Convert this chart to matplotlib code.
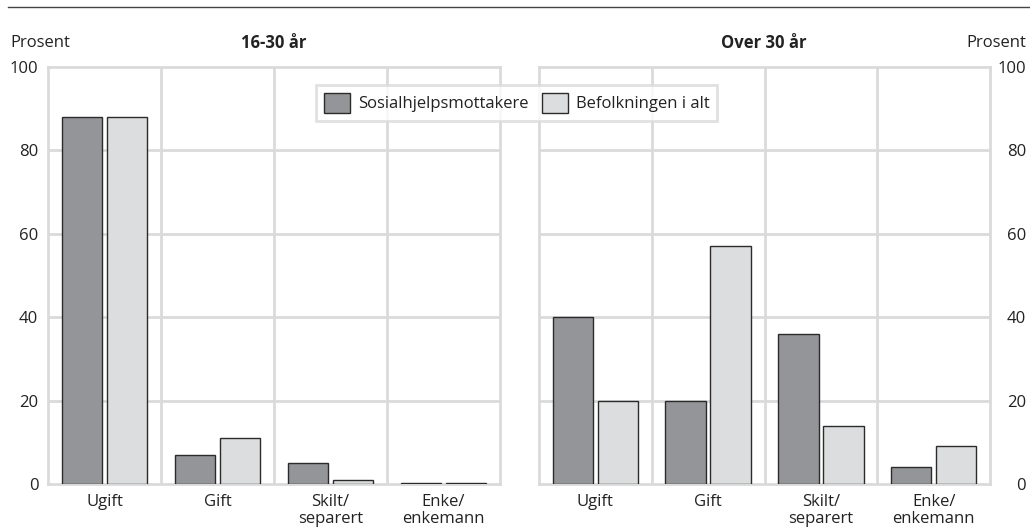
import matplotlib
matplotlib.use("Agg")
import matplotlib.pyplot as plt
import numpy as np
from matplotlib.patches import Patch
from matplotlib.lines import Line2D

plt.rcParams['font.family'] = ['Open Sans', 'DejaVu Sans']

categories = ["Ugift", "Gift", "Skilt/\nseparert", "Enke/\nenkemann"]
series_names = ["Sosialhjelpsmottakere", "Befolkningen i alt"]
young_social = [88, 7, 5, 0.2]
young_pop = [88, 11, 1, 0.2]
old_social = [40, 20, 36, 4]
old_pop = [20, 57, 14, 9]
panel_titles = ["16-30 år", "Over 30 år"]
yticks = [0, 20, 40, 60, 80, 100]

DARK = "#939598"
LIGHT = "#dcddde"
EDGE = "#2b2b2b"
GRID = "#dadada"
FS = 12
TXT = "#222222"

W, H = 1030, 527
fig = plt.figure(figsize=(W / 100, H / 100), dpi=100)

def px(x0, y0, x1, y1):
    return [x0 / W, 1 - y1 / H, (x1 - x0) / W, (y1 - y0) / H]

ax1 = fig.add_axes(px(48, 67, 500, 484))
ax2 = fig.add_axes(px(539, 67, 990, 484))

bw = 0.36
gap = 0.02
for ax, s1, s2 in [(ax1, young_social, young_pop), (ax2, old_social, old_pop)]:
    x = np.arange(len(categories)) + 0.5
    ax.bar(x - bw / 2 - gap, s1, width=bw, color=DARK, edgecolor=EDGE, linewidth=1, zorder=3)
    ax.bar(x + bw / 2 + gap, s2, width=bw, color=LIGHT, edgecolor=EDGE, linewidth=1, zorder=3)
    ax.set_xlim(0, len(categories))
    ax.set_ylim(0, 100)
    for v in [1, 2, 3]:
        ax.axvline(v, color=GRID, lw=2, zorder=1)
    for v in yticks[1:-1]:
        ax.axhline(v, color=GRID, lw=2, zorder=1)
    for sp in ax.spines.values():
        sp.set_color(GRID)
        sp.set_linewidth(2)
        sp.set_zorder(1)
    ax.set_xticks(x)
    ax.set_xticklabels(categories, fontsize=FS, linespacing=1.1, color=TXT)
    ax.tick_params(axis='x', length=0, pad=7)
    ax.set_yticks(yticks)
    ax.set_facecolor('none')

ax1.tick_params(axis='y', length=0, pad=7, labelsize=FS, labelcolor=TXT)
ax2.yaxis.tick_right()
ax2.tick_params(axis='y', length=0, pad=26, labelsize=FS, labelcolor=TXT)
for lab in ax2.get_yticklabels():
    lab.set_horizontalalignment('right')

ty = 1 - 43 / H
fig.text(10 / W, ty, "Prosent", fontsize=FS, ha='left', va='center', color=TXT)
fig.text(1026 / W, ty, "Prosent", fontsize=FS, ha='right', va='center', color=TXT)
fig.text(274 / W, ty, panel_titles[0], fontsize=FS, fontweight='bold', ha='center', va='center', color=TXT)
fig.text(764 / W, ty, panel_titles[1], fontsize=FS, fontweight='bold', ha='center', va='center', color=TXT)

fig.add_artist(Line2D([8 / W, 1.0], [1 - 7 / H, 1 - 7 / H], color="#444444", lw=1))

handles = [Patch(facecolor=DARK, edgecolor=EDGE, linewidth=1),
           Patch(facecolor=LIGHT, edgecolor=EDGE, linewidth=1)]
leg = fig.legend(handles, series_names, loc='upper left',
                 bbox_to_anchor=(316 / W, 1 - 85 / H), ncol=2, fontsize=FS,
                 frameon=True, fancybox=False, handlelength=1.56, handleheight=1.56,
                 handletextpad=0.5, columnspacing=0.8, borderpad=0.45, borderaxespad=0)
leg.get_frame().set_edgecolor(GRID)
leg.get_frame().set_linewidth(2)
for t in leg.get_texts():
    t.set_color(TXT)
leg.set_zorder(10)

fig.savefig("out.png", dpi=100)
